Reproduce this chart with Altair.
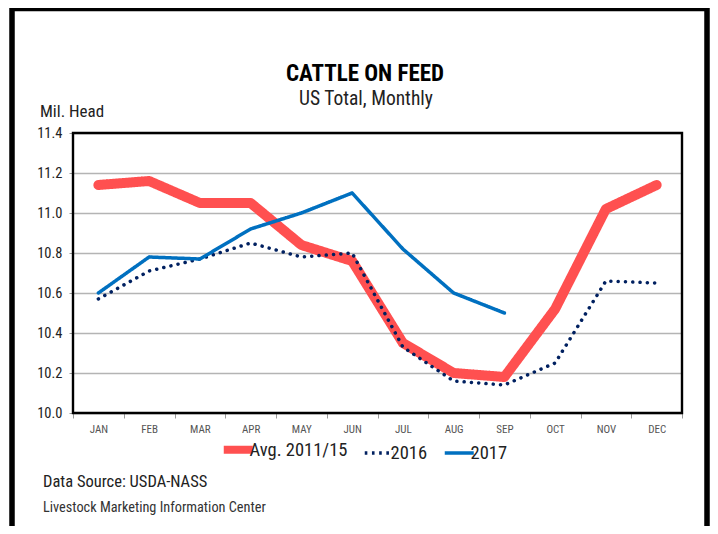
import altair as alt
import pandas as pd

months = ["JAN", "FEB", "MAR", "APR", "MAY", "JUN", "JUL", "AUG", "SEP", "OCT", "NOV", "DEC"]
avg_2011_15 = [11.14, 11.16, 11.05, 11.05, 10.84, 10.76, 10.35, 10.20, 10.18, 10.52, 11.02, 11.14]
y2016 = [10.57, 10.71, 10.77, 10.85, 10.78, 10.80, 10.33, 10.16, 10.14, 10.25, 10.66, 10.65]
y2017 = [10.60, 10.78, 10.77, 10.92, 11.00, 11.10, 10.82, 10.60, 10.50]
series_names = ["Avg. 2011/15", "2016", "2017"]
series_colors = ["#FF5050", "#002060", "#0070C0"]
series_dash = [[1, 0], [0.1, 7.2], [1, 0]]
series_width = [10, 3.5, 3.5]
y_ticks = [10.0, 10.2, 10.4, 10.6, 10.8, 11.0, 11.2, 11.4]

FONT = "Roboto Condensed, Arial Narrow, Roboto, sans-serif"

rows = []
for name, vals in zip(series_names, [avg_2011_15, y2016, y2017]):
    for m, v in zip(months, vals):
        rows.append({"month": m, "value": v, "series": name})
df = pd.DataFrame(rows)

x_enc = alt.X(
    "month:N", sort=months, bandPosition=0.5,
    scale=alt.Scale(type="band", domain=months, paddingInner=0, paddingOuter=0),
    axis=alt.Axis(title=None, tickBand="extent", labelFont=FONT, labelFontSize=11,
                  labelColor="#555555", tickColor="#999999", tickSize=5, tickWidth=1,
                  domain=False, labelPadding=5, labelAngle=0, grid=False),
)
y_enc = alt.Y(
    "value:Q",
    scale=alt.Scale(domain=[10.0, 11.4], nice=False, zero=False),
    axis=alt.Axis(title=None, values=y_ticks, format=".1f", tickSize=4, tickColor="#999999",
                  labelFont=FONT, labelFontSize=14.5, labelColor="#222222", labelPadding=7,
                  gridColor="#b4b4b4", gridWidth=1.6, domain=False),
)
color_enc = alt.Color(
    "series:N",
    scale=alt.Scale(domain=series_names, range=series_colors),
    legend=alt.Legend(
        title=None, orient="none", legendX=156, legendY=307, direction="horizontal",
        labelFont=FONT, labelFontSize=18.5, labelColor="#222222", symbolType="stroke",
        symbolSize=841, labelOffset=2, columnPadding=9, padding=0,
        symbolStrokeWidth=alt.ExprRef(expr="datum.value === 'Avg. 2011/15' ? 8 : 3.5"),
        symbolDash=alt.ExprRef(expr="datum.value === '2016' ? [2.6, 4.6] : [1, 0]"),
    ),
)

base = alt.Chart(df)
lines = []
for name, w, dash in zip(series_names, series_width, series_dash):
    lines.append(
        base.transform_filter(alt.datum.series == name)
        .mark_line(strokeWidth=w, strokeCap="round", strokeJoin="round", strokeDash=dash)
        .encode(x=x_enc, y=y_enc, color=color_enc)
    )


def label(text, x, y, size, weight="normal", color="#222222", align="left"):
    return alt.Chart(pd.DataFrame({"t": [text]})).mark_text(
        align=align, baseline="alphabetic", fontSize=size, fontWeight=weight,
        color=color, font=FONT,
    ).encode(x=alt.value(x), y=alt.value(y), text="t:N")


frame = alt.Chart(pd.DataFrame({"a": [0]})).mark_rect(
    fillOpacity=0, stroke="black", strokeWidth=5.5
).encode(x=alt.value(-61), x2=alt.value(634), y=alt.value(-124.5), y2=alt.value(420))

plot_frame = alt.Chart(pd.DataFrame({"a": [0]})).mark_rect(
    fillOpacity=0, stroke="black", strokeWidth=2.4
).encode(x=alt.value(0), x2=alt.value(609), y=alt.value(0), y2=alt.value(280))

texts = [
    label("CATTLE ON FEED", 292, -52, 23, weight="bold", color="#000000", align="center"),
    label("US Total, Monthly", 293, -28.5, 19.5, align="center"),
    label("Mil. Head", -33, -16, 17),
    label("Data Source:  USDA-NASS", -30, 354, 16.5),
    label("Livestock Marketing Information Center", -30, 379, 14.3, color="#333333"),
]

chart = alt.layer(frame, plot_frame, *lines, *texts).properties(
    width=609, height=280,
    padding={"left": 65, "top": 125, "right": 28, "bottom": 113},
    autosize=alt.AutoSizeParams(type="none"),
).configure_view(stroke=None).configure(background="white")

chart.save("out.html", embed_options={"renderer": "svg", "actions": False})
